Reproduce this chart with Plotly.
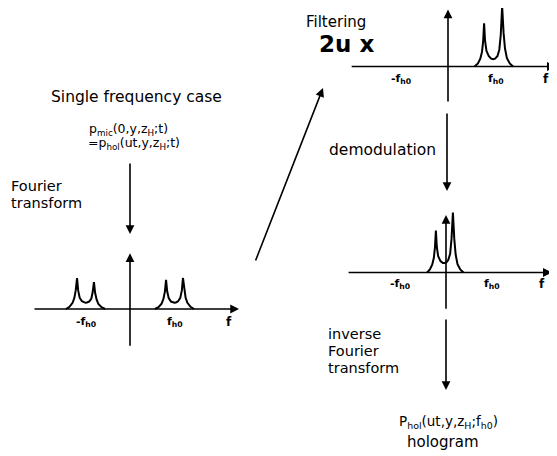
import plotly.graph_objects as go

# reference canvas size and page offset of the plot div (default body margin)
W_REF, H_REF = 557, 456
OFF = 8
W, H = W_REF - OFF, H_REF - OFF

# ---------------- data (f in units of f_h0, amplitude relative) ----------------
single_left_f = [-1.44, -1.36, -1.29, -1.25, -1.22, -1.19, -1.165, -1.13, -1.08, -1.03, -1.0,
                 -0.97, -0.92, -0.87, -0.84, -0.81, -0.785, -0.75, -0.71, -0.64, -0.56]
single_left_a = [0, 0.07, 0.2, 0.36, 0.6, 1.0, 0.6, 0.36, 0.25, 0.21, 0.2,
                 0.21, 0.24, 0.33, 0.53, 0.87, 0.53, 0.3, 0.16, 0.06, 0]
single_right_f = [0.56, 0.64, 0.71, 0.75, 0.785, 0.81, 0.835, 0.87, 0.92, 0.97, 1.0,
                  1.03, 1.08, 1.13, 1.165, 1.19, 1.22, 1.25, 1.29, 1.36, 1.44]
single_right_a = [0, 0.06, 0.17, 0.32, 0.57, 0.94, 0.57, 0.35, 0.24, 0.21, 0.2,
                  0.21, 0.25, 0.36, 0.6, 1.0, 0.6, 0.36, 0.2, 0.07, 0]
filtered_f = [0.56, 0.63, 0.68, 0.715, 0.74, 0.76, 0.78, 0.81, 0.86, 0.91, 0.95,
              0.99, 1.04, 1.08, 1.11, 1.14, 1.17, 1.2, 1.24, 1.3, 1.37]
filtered_a = [0, 0.05, 0.13, 0.24, 0.42, 0.72, 0.43, 0.26, 0.17, 0.13, 0.12,
              0.13, 0.17, 0.28, 0.52, 1.0, 0.56, 0.3, 0.14, 0.05, 0]
demod_f = [-0.41, -0.35, -0.3, -0.265, -0.24, -0.22, -0.2, -0.17, -0.12, -0.07, -0.03,
           0.01, 0.05, 0.09, 0.12, 0.15, 0.18, 0.21, 0.25, 0.31, 0.38]
demod_a = [0, 0.05, 0.13, 0.24, 0.42, 0.7, 0.43, 0.27, 0.19, 0.16, 0.16,
           0.17, 0.21, 0.31, 0.56, 1.0, 0.56, 0.3, 0.14, 0.05, 0]

tick_f = [-1, 1]
tick_labels = ["-f<sub>h0</sub>", "f<sub>h0</sub>"]
freq_label = "f"

# ---------------- layout of the three spectrum panels (reference pixels) ----------------
panels = [
    dict(box=(20, 250, 240, 360), origin=(130, 309), fs=44.5, asc=31,
         h=(-2.18, 2.45), v=(-1.23, 1.8), tick_shift=-13,
         curves=[(single_left_f, single_left_a), (single_right_f, single_right_a)]),
    dict(box=(340, 557, 8, 110), origin=(448, 66.5), fs=47.5, asc=60,
         h=(-2.06, 2.27), v=(-0.61, 0.95), tick_shift=-12,
         curves=[(filtered_f, filtered_a)]),
    dict(box=(340, 557, 205, 315), origin=(446, 272.5), fs=46, asc=60,
         h=(-2.15, 2.3), v=(-0.63, 0.96), tick_shift=-11,
         curves=[(demod_f, demod_a)]),
]

fig = go.Figure()
annotations = []
layout_axes = {}
FONT = "DejaVu Sans"

for i, p in enumerate(panels, start=1):
    xl, xr, yt, yb = p["box"]
    ox, oy = p["origin"]
    xs = "" if i == 1 else str(i)
    xref, yref = "x" + xs, "y" + xs
    layout_axes["xaxis" + xs] = dict(domain=[(xl - OFF) / W, (xr - OFF) / W],
                                     range=[(xl - ox) / p["fs"], (xr - ox) / p["fs"]],
                                     visible=False, fixedrange=True, anchor=yref)
    layout_axes["yaxis" + xs] = dict(domain=[1 - (yb - OFF) / H, 1 - (yt - OFF) / H],
                                     range=[(oy - yb) / p["asc"], (oy - yt) / p["asc"]],
                                     visible=False, fixedrange=True, anchor=xref)
    for cf, ca in p["curves"]:
        fig.add_trace(go.Scatter(x=cf, y=ca, mode="lines", xaxis=xref, yaxis=yref,
                                 line=dict(color="black", width=2), hoverinfo="skip",
                                 showlegend=False))
    # axes with arrows
    annotations.append(dict(x=p["h"][1], y=0, ax=p["h"][0], ay=0, xref=xref, yref=yref,
                            axref=xref, ayref=yref, text="", showarrow=True,
                            arrowhead=2, arrowsize=1.1, arrowwidth=1.6, arrowcolor="black",
                            standoff=0, startstandoff=0))
    annotations.append(dict(x=0, y=p["v"][1], ax=0, ay=p["v"][0], xref=xref, yref=yref,
                            axref=xref, ayref=yref, text="", showarrow=True,
                            arrowhead=2, arrowsize=1.1, arrowwidth=1.6, arrowcolor="black",
                            standoff=0, startstandoff=0))
    for tf, tl in zip(tick_f, tick_labels):
        annotations.append(dict(x=tf, y=0, xref=xref, yref=yref, text="<b>" + tl + "</b>",
                                showarrow=False, yshift=p["tick_shift"],
                                font=dict(family=FONT, size=11, color="black")))
    annotations.append(dict(x=p["h"][1], y=0, xref=xref, yref=yref,
                            text="<b>" + freq_label + "</b>", showarrow=False,
                            xshift=-10, yshift=p["tick_shift"],
                            font=dict(family=FONT, size=12, color="black")))


def px(x, y):
    return (x - OFF) / W, 1 - (y - OFF) / H


def text(x, y, s, size=14.5, anchor="left", bold=False):
    X, Y = px(x, y)
    annotations.append(dict(x=X, y=Y, xref="paper", yref="paper",
                            text=("<b>%s</b>" % s) if bold else s,
                            showarrow=False, xanchor=anchor, yanchor="middle",
                            font=dict(family=FONT, size=size, color="black")))


def arrow(x0, y0, x1, y1):
    X, Y = px(x1, y1)
    annotations.append(dict(x=X, y=Y, xref="paper", yref="paper", ax=x0 - x1, ay=y0 - y1,
                            text="", showarrow=True, arrowhead=2, arrowsize=1.1,
                            arrowwidth=1.6, arrowcolor="black", standoff=0, startstandoff=0))


text(136, 97, "Single frequency case", size=15.5, anchor="center")
text(87, 129, "p<sub>mic</sub>(0,y,z<sub>H</sub>;t)", size=12.5)
text(86, 143, "=p<sub>hol</sub>(ut,y,z<sub>H</sub>;t)", size=12.5)
text(9, 186, "Fourier")
text(9, 203, "transform")
arrow(130, 162, 130, 234)
arrow(255, 262, 323, 88)
text(304, 22, "Filtering", size=15)
text(317, 44, "2u x", size=23, bold=True)
text(327, 150, "demodulation", size=15.5)
arrow(447, 112, 447, 191)
text(326, 334, "inverse")
text(326, 351, "Fourier")
text(326, 368, "transform")
arrow(446, 318, 446, 390)
text(448, 422, "P<sub>hol</sub>(ut,y,z<sub>H</sub>;f<sub>h0</sub>)", size=13.5, anchor="center")
text(443, 442, "hologram", size=15, anchor="center")

fig.update_layout(width=W, height=H, margin=dict(l=0, r=0, t=0, b=0),
                  paper_bgcolor="white", plot_bgcolor="rgba(0,0,0,0)",
                  annotations=annotations, showlegend=False, **layout_axes)
fig.write_html("out.html", config={"displayModeBar": False})
